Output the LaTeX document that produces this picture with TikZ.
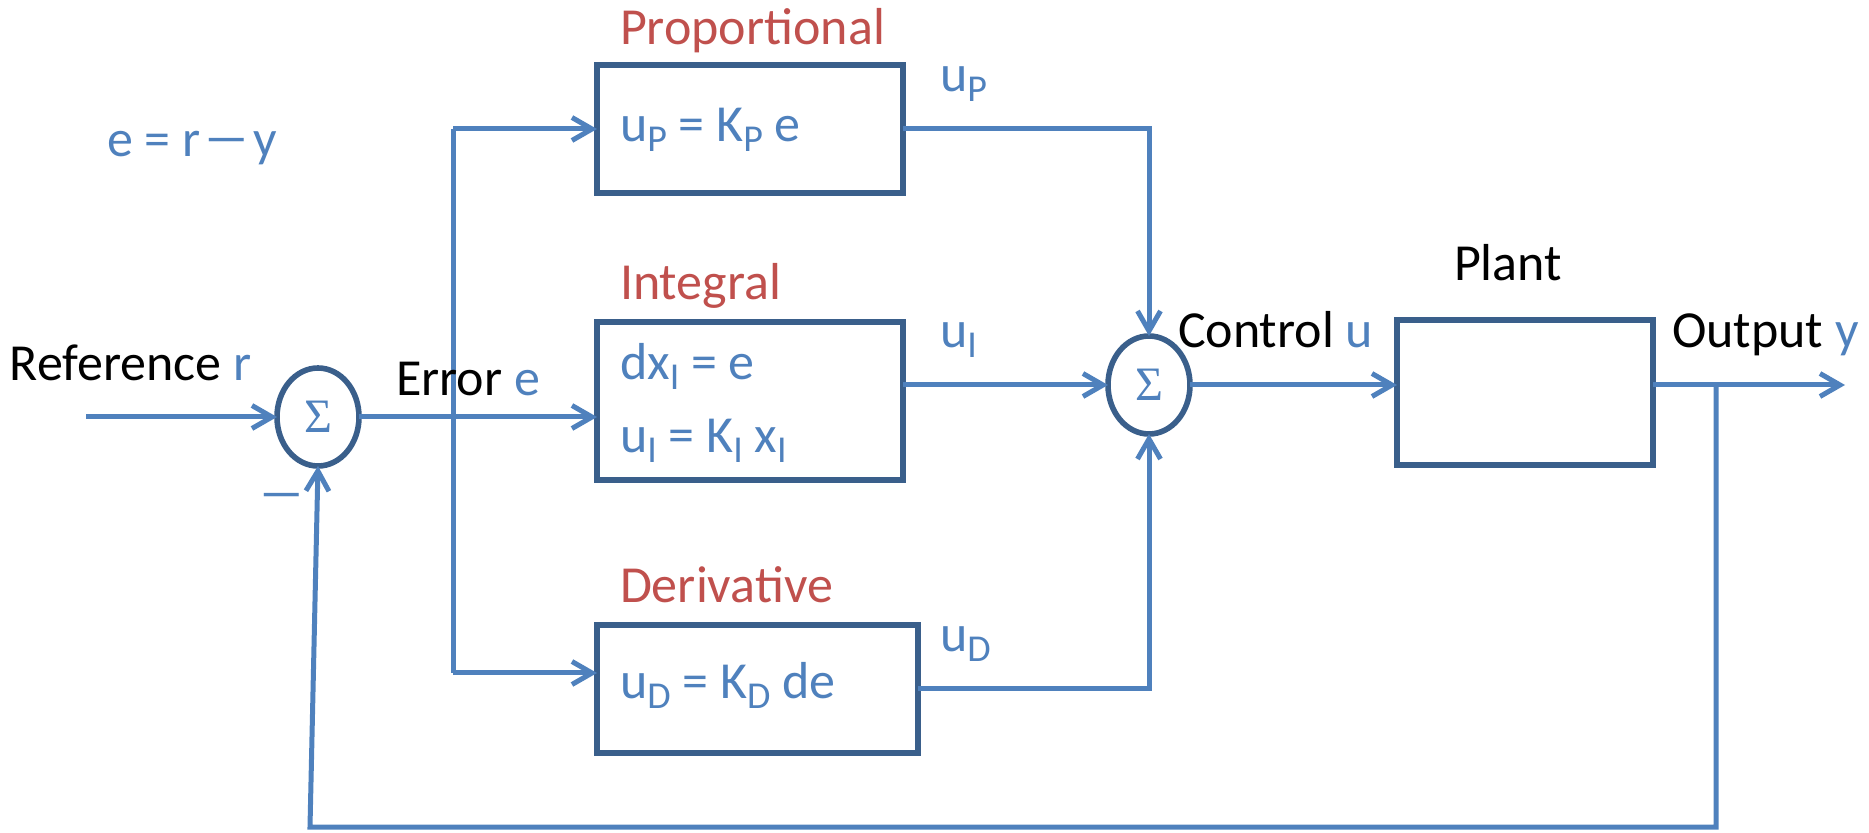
\documentclass[tikz,border=0pt]{standalone}
\usepackage{fontspec}
\setmainfont{Carlito}
\newfontfamily\sigfont{Liberation Serif}
\usetikzlibrary{arrows.meta,shapes.geometric}
\definecolor{lineblue}{HTML}{4F81BD}
\definecolor{boxblue}{HTML}{3A5F8B}
\definecolor{titlered}{HTML}{C0504D}
\newcommand\mysub[1]{\raisebox{-5pt}{\fontsize{19}{19}\selectfont #1}}
\newcommand\longminus{\scalebox{1.8}[1]{−}}
\begin{document}
\begin{tikzpicture}[x=0.5pt,y=-0.5pt,
  every node/.style={inner sep=0pt, outer sep=0pt},
  txt/.style={font=\fontsize{26}{31}\selectfont, anchor=base west},
  bl/.style={text=lineblue},
  rd/.style={text=titlered},
  blockbox/.style={draw=boxblue, line width=2.8pt, rectangle, fill=white},
  sumnode/.style={draw=boxblue, line width=2.8pt, ellipse, minimum width=41pt, minimum height=49pt,
    font=\sigfont\fontsize{24}{24}\selectfont, text=lineblue},
  conn/.style={draw=lineblue, line width=2.5pt},
  arr/.style={conn, -{Straight Barb[length=10pt, width=11.5pt, line width=2.5pt]}}
]
\useasboundingbox (0,0) rectangle (1869,833);

% blocks
\node[blockbox, minimum width=153pt, minimum height=64pt] (P) at (750,129) {};
\node[blockbox, minimum width=153pt, minimum height=79pt] (I) at (750,401) {};
\node[blockbox, minimum width=160.5pt, minimum height=64pt] (D) at (757.5,689) {};
\node[blockbox, minimum width=128pt, minimum height=72.5pt] (Plant) at (1525,392.5) {};
\node[sumnode] (S1) at (318,417) {Σ};
\node[sumnode] (S2) at (1149,385) {Σ};

% coordinates
\coordinate (rin) at (86,417);
\coordinate (bt) at (453,129);
\coordinate (bb) at (453,673);
\coordinate (yout) at (1845,385);
\coordinate (fb1) at (1716,385);
\coordinate (fb2) at (1716,827);
\coordinate (fb3) at (310,827);

% connectors
\draw[arr] (rin) -- (S1.west);
\draw[conn] (bt) -- (bb);
\draw[arr] (S1.east) -- (S1.east -| I.west);
\draw[arr] (bt) -- (bt -| P.west);
\draw[arr] (bb) -- (bb -| D.west);
\draw[arr] (P.east) -| (S2.north);
\draw[arr] (I.east |- S2.west) -- (S2.west);
\draw[arr] (D.east) -| (S2.south);
\draw[arr] (S2.east) -- (S2.east -| Plant.west);
\draw[arr] (Plant.east |- S2.east) -- (yout);
\draw[arr] (fb1) -- (fb2) -- (fb3) -- (S1.south);

% texts
\node[txt, bl] (eq) at (107,157) {e = r\kern1.5pt\longminus\kern1.5pt y};
\node[txt] (reftxt) at (10,381) {Reference \textcolor{lineblue}{r}};
\node[txt, bl] (minus) at (258,512) {\longminus};
\node[txt] (errtxt) at (396,396) {Error \textcolor{lineblue}{e}};
\node[txt, rd] (ptitle) at (620,45) {Proportional};
\node[txt, bl] (peq) at (620,142) {u\mysub{P} = K\mysub{P} e};
\node[txt, bl] (uplab) at (940,92) {u\mysub{P}};
\node[txt, rd] (ititle) at (620,300) {Integral};
\node[txt, bl] (ieq1) at (620,380) {dx\mysub{I} = e};
\node[txt, bl] (ieq2) at (620,453) {u\mysub{I} = K\mysub{I} x\mysub{I}};
\node[txt, bl] (uilab) at (940,348) {u\mysub{I}};
\node[txt, rd] (dtitle) at (620,603) {Derivative};
\node[txt, bl] (deq) at (620,698) {u\mysub{D} = K\mysub{D} de};
\node[txt, bl] (udlab) at (940,652) {u\mysub{D}};
\node[txt] (ctltxt) at (1178,348) {Control \textcolor{lineblue}{u}};
\node[txt] (planttxt) at (1454,281) {Plant};
\node[txt] (outtxt) at (1672,348) {Output \textcolor{lineblue}{y}};
\end{tikzpicture}
\end{document}
